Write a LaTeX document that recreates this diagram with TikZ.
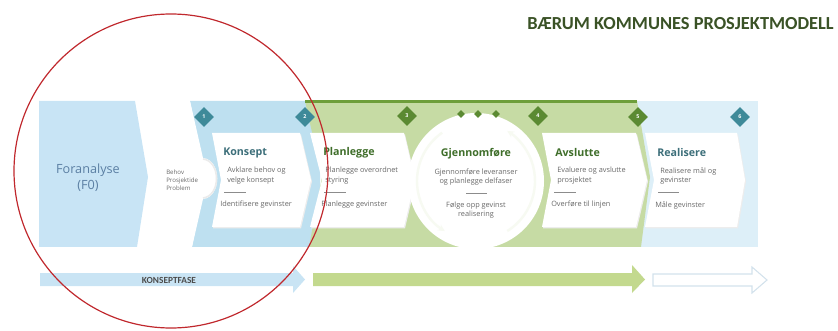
\documentclass[tikz,border=0pt]{standalone}
\usepackage{fontspec}
\setmainfont{Open Sans}
\newfontfamily\carl{Carlito}
\usetikzlibrary{arrows.meta,shapes.geometric}
\definecolor{fablue}{HTML}{C8E4F5}
\definecolor{kblue}{HTML}{BEE0F0}
\definecolor{rblue}{HTML}{DDEFF8}
\definecolor{gzone}{HTML}{C6DBA4}
\definecolor{gbar}{HTML}{6E9E3A}
\definecolor{teal}{HTML}{3E8A99}
\definecolor{dgreen}{HTML}{5B8A32}
\definecolor{ttl}{HTML}{3F6E2A}
\definecolor{htl}{HTML}{3A5226}
\definecolor{ttlteal}{HTML}{3D6F7A}
\definecolor{txtg}{HTML}{6A6A6A}
\definecolor{farrow}{HTML}{C9E4F4}
\definecolor{garrow}{HTML}{C3D98E}
\definecolor{warrow}{HTML}{D3E2EC}
\definecolor{ring}{HTML}{F7FAF2}
\definecolor{redc}{HTML}{C0282D}
\definecolor{fatxt}{HTML}{5B7FA3}
\tikzset{
  card/.style={fill=white},
  cshadow/.style={fill=black!7},
  ctitle/.style={anchor=west,font=\fontsize{8}{9}\selectfont\bfseries,inner sep=0pt},
  cbody/.style={anchor=north west,align=left,font=\fontsize{5.5}{7}\selectfont,text=txtg,inner sep=0pt},
  cline/.style={draw=black!45,line width=0.5pt},
  diam/.style={diamond,minimum size=15,inner sep=0pt,text=white,font=\fontsize{4}{4}\selectfont\bfseries},
  smalld/.style={diamond,fill=dgreen,minimum size=6,inner sep=0pt},
}
\begin{document}
\begin{tikzpicture}[x=0.75pt,y=-0.75pt]
\useasboundingbox (0,0) rectangle (838,331);
% title
\node[font=\carl\fontsize{13.8}{16}\selectfont\bfseries,text=htl,anchor=east,inner sep=0pt] (title) at (834,24) {BÆRUM KOMMUNES PROSJEKTMODELL};
% zones
\fill[rblue] (630,101) rectangle (758,247);
\fill[kblue] (190,101) -- (320,101) -- (320,247) -- (192,247) -- (206,177) -- cycle;
\fill[gzone] (305,101) -- (637,101) -- (650,177) -- (641,247) -- (309,247) -- (322,177) -- cycle;
\fill[gbar] (305,100) rectangle (637,103.5);
\fill[fablue] (39,101) -- (135,101) -- (148,177) -- (137,247) -- (39,247) -- cycle;
\node[font=\fontsize{9.5}{12}\selectfont,text=fatxt,align=center] (fa) at (88,178) {Foranalyse\\(F0)};
% cards
\foreach \a/\b/\c/\d in {212/300/311/221, 310/404/415/322, 542/636/647/551, 645/737/745/654}{
  \fill[cshadow] (\a+1,134.5) -- (\b+1,134.5) -- (\c+1,181.5) -- (\b+1,228.5) -- (\a+1,228.5) -- (\d+1,181.5) -- cycle;
  \fill[card] (\a,133) -- (\b,133) -- (\c,180) -- (\b,227) -- (\a,227) -- (\d,180) -- cycle;
}
% behov blob
\fill[white] (190,101) -- (203,158) .. controls (222,160) and (222,197) .. (203,199) -- (192,247) -- (180,247) -- (180,101) -- cycle;
\draw[black!8,line width=1.2pt] (203,159) .. controls (221,161) and (221,196) .. (203,198);
\node[font=\fontsize{4.6}{6}\selectfont,text=txtg,align=left,anchor=west,inner sep=0pt] (behov) at (166,180) {Behov\\Prosjektide\\Problem};
% circle
\node[circle,fill=white,minimum size=102,inner sep=0pt] (gj) at (476,181) {};
\draw[ring,line width=1.8pt,-{Stealth[length=5pt,width=5pt]}] (476,181) ++(235:59) arc (235:122:59);
\draw[ring,line width=1.8pt,-{Stealth[length=5pt,width=5pt]}] (476,181) ++(58:59) arc (58:-58:59);
% diamonds
\node[diam,fill=teal] (d1) at (204,117) {1};
\node[diam,fill=teal] (d2) at (305,117) {2};
\node[diam,fill=dgreen] (d3) at (407,116) {3};
\node[diam,fill=dgreen] (d4) at (538,116) {4};
\node[diam,fill=dgreen] (d5) at (638,117) {5};
\node[diam,fill=teal] (d6) at (740,117) {6};
\node[smalld] (s1) at (461,114) {};
\node[smalld] (s2) at (478,114) {};
\node[smalld] (s3) at (496,114) {};
% card texts
\node[ctitle,text=ttlteal] (t1) at (223,153) {Konsept};
\node[cbody] (b1) at (227,167) {Avklare behov og\\velge konsept};
\draw[cline] (224,192) -- (246,192);
\node[cbody] (c1) at (220,201) {Identifisere gevinster};

\node[ctitle,text=ttl] (t2) at (323,153) {Planlegge};
\node[cbody] (b2) at (325,167) {Planlegge overordnet\\styring};
\draw[cline] (324,192) -- (346,192);
\node[cbody] (c2) at (321,201) {Planlegge gevinster};

\node[font=\fontsize{8}{9}\selectfont\bfseries,text=ttl,inner sep=0pt] (t3) at (476,154) {Gjennomføre};
\node[font=\fontsize{5.5}{7}\selectfont,text=txtg,align=center,inner sep=0pt] (b3) at (476,177) {Gjennomføre leveranser\\og planlegge delfaser};
\draw[cline] (466,193) -- (487,193);
\node[font=\fontsize{5.5}{7}\selectfont,text=txtg,align=center,inner sep=0pt] (c3) at (476,210) {Følge opp gevinst\\realisering};

\node[ctitle,text=ttl] (t4) at (555,153) {Avslutte};
\node[cbody] (b4) at (557,167) {Evaluere og avslutte\\prosjektet};
\draw[cline] (554,192) -- (576,192);
\node[cbody] (c4) at (551,201) {Overføre til linjen};

\node[ctitle,text=ttlteal] (t5) at (657,153) {Realisere};
\node[cbody] (b5) at (660,167) {Realisere mål og\\gevinster};
\draw[cline] (658,192) -- (679,192);
\node[cbody] (c5) at (655,201) {Måle gevinster};
% bottom arrows
\fill[farrow] (40,273) -- (293,273) -- (293,266) -- (305,279.5) -- (293,293) -- (293,286) -- (40,286) -- cycle;
\node[font=\carl\fontsize{7}{8}\selectfont\bfseries,text=black!70,inner sep=0pt] (kf) at (169,280) {KONSEPTFASE};
\fill[garrow] (313,273) -- (632,273) -- (632,265) -- (645,279.5) -- (632,293) -- (632,286) -- (313,286) -- cycle;
\draw[warrow,fill=white,line width=0.8pt] (653,274) -- (752,274) -- (752,267) -- (767,280) -- (752,293) -- (752,286) -- (653,286) -- cycle;
% red circle
\draw[redc,line width=0.9pt] (171,171) circle[radius=157];
\end{tikzpicture}
\end{document}
